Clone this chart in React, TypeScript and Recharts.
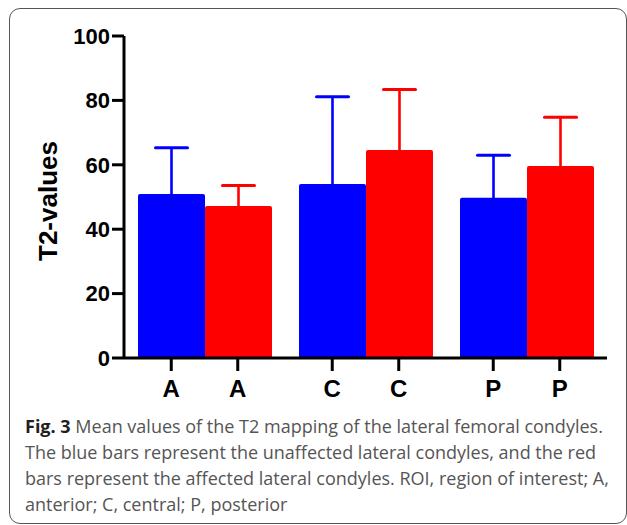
import React from 'react';
import { BarChart, Bar, XAxis, YAxis, Label, Rectangle } from 'recharts';

const regions = ['A', 'C', 'P'];
const unaffectedMean = [50.9, 54.0, 49.8];
const unaffectedSD = [14.4, 27.1, 13.2];
const affectedMean = [47.2, 64.6, 59.6];
const affectedSD = [6.4, 18.8, 15.2];
const yTicks = [0, 20, 40, 60, 80, 100];
const captionLines = [
  'Mean values of the T2 mapping of the lateral femoral condyles.',
  'The blue bars represent the unaffected lateral condyles, and the red',
  'bars represent the affected lateral condyles. ROI, region of interest; A,',
  'anterior; C, central; P, posterior',
];

const data = regions.map((r, i) => ({
  region: r,
  unaffected: unaffectedMean[i],
  unaffectedSD: unaffectedSD[i],
  affected: affectedMean[i],
  affectedSD: affectedSD[i],
}));

const BAR_HALF = 33.25;

const XTick = (props: any) => {
  const { x, y, payload } = props;
  return (
    <g>
      {[-BAR_HALF, BAR_HALF].map((d, i) => (
        <g key={i}>
          <line x1={x + d} x2={x + d} y1={y} y2={y + 13} stroke="#000" strokeWidth={3} />
          <text
            x={x + d}
            y={y + 39}
            textAnchor="middle"
            fontFamily="Liberation Sans, Arial, sans-serif"
            fontWeight="bold"
            fontSize={24}
            fill="#000"
          >
            {payload.value}
          </text>
        </g>
      ))}
    </g>
  );
};

const YLabel = (props: any) => {
  const vb = props.viewBox || { x: 64, y: 36, width: 60, height: 322 };
  const cx = vb.x - 16;
  const cy = vb.y + vb.height / 2 + 4;
  return (
    <text
      x={cx}
      y={cy}
      transform={`rotate(-90 ${cx} ${cy})`}
      textAnchor="middle"
      dominantBaseline="central"
      fontFamily="Liberation Sans, Arial, sans-serif"
      fontWeight="bold"
      fontSize={26}
      fill="#000"
    >
      T2-values
    </text>
  );
};

const makeBarShape = (meanKey: string, sdKey: string, color: string) => (props: any) => {
  const { x, y, width, height, payload } = props;
  const mean = payload[meanKey];
  const sd = payload[sdKey];
  const pxPerUnit = mean ? height / mean : 0;
  const errTop = y - sd * pxPerUnit;
  const cx = x + width / 2;
  return (
    <g>
      <Rectangle x={x} y={y} width={width} height={height} fill={color} radius={[2, 2, 0, 0]} />
      <line x1={cx} x2={cx} y1={y + 1} y2={errTop} stroke={color} strokeWidth={2.6} />
      <line x1={cx - 16} x2={cx + 16} y1={errTop} y2={errTop} stroke={color} strokeWidth={3} strokeLinecap="round" />
    </g>
  );
};

const unaffectedShape = makeBarShape('unaffected', 'unaffectedSD', '#0000FF');
const affectedShape = makeBarShape('affected', 'affectedSD', '#FF0000');

export default function App() {
  return (
    <div style={{ position: 'fixed', left: 0, top: 0, width: 627, height: 525, background: '#fff', overflow: 'hidden' }}>
      <div
        style={{
          position: 'absolute',
          left: 9,
          top: 8,
          width: 618,
          height: 516,
          border: '1.5px solid #555',
          borderRadius: 11,
          boxSizing: 'border-box',
        }}
      />
      <div style={{ position: 'absolute', left: 0, top: 0 }}>
        <BarChart
          width={627}
          height={420}
          data={data}
          margin={{ top: 36, right: 20, left: 64, bottom: 12 }}
          barCategoryGap={14}
          barGap={0}
        >
          <XAxis
            dataKey="region"
            axisLine={{ stroke: '#000', strokeWidth: 3 }}
            tickLine={false}
            tickSize={0}
            tickMargin={0}
            height={50}
            interval={0}
            tick={<XTick />}
          />
          <YAxis
            type="number"
            domain={[0, 100]}
            ticks={yTicks}
            interval={0}
            width={60}
            axisLine={{ stroke: '#000', strokeWidth: 3 }}
            tickLine={{ stroke: '#000', strokeWidth: 3 }}
            tickSize={12}
            tickMargin={2}
            tick={{ fill: '#000', fontSize: 22, fontWeight: 'bold', fontFamily: 'Liberation Sans, Arial, sans-serif' }}
            label={<Label content={<YLabel />} />}
          />
          <Bar dataKey="unaffected" fill="#0000FF" shape={unaffectedShape} isAnimationActive={false} />
          <Bar dataKey="affected" fill="#FF0000" shape={affectedShape} isAnimationActive={false} />
        </BarChart>
      </div>
      <div
        style={{
          position: 'absolute',
          left: 25,
          top: 413,
          fontFamily: "'Open Sans', sans-serif",
          fontSize: 18,
          lineHeight: '26px',
          color: '#555',
          whiteSpace: 'nowrap',
        }}
      >
        {captionLines.map((l, i) => (
          <div key={i}>
            {i === 0 ? (
              <>
                <span style={{ fontWeight: 'bold', color: '#231f20' }}>Fig. 3</span>{' '}
              </>
            ) : null}
            {l}
          </div>
        ))}
      </div>
    </div>
  );
}
